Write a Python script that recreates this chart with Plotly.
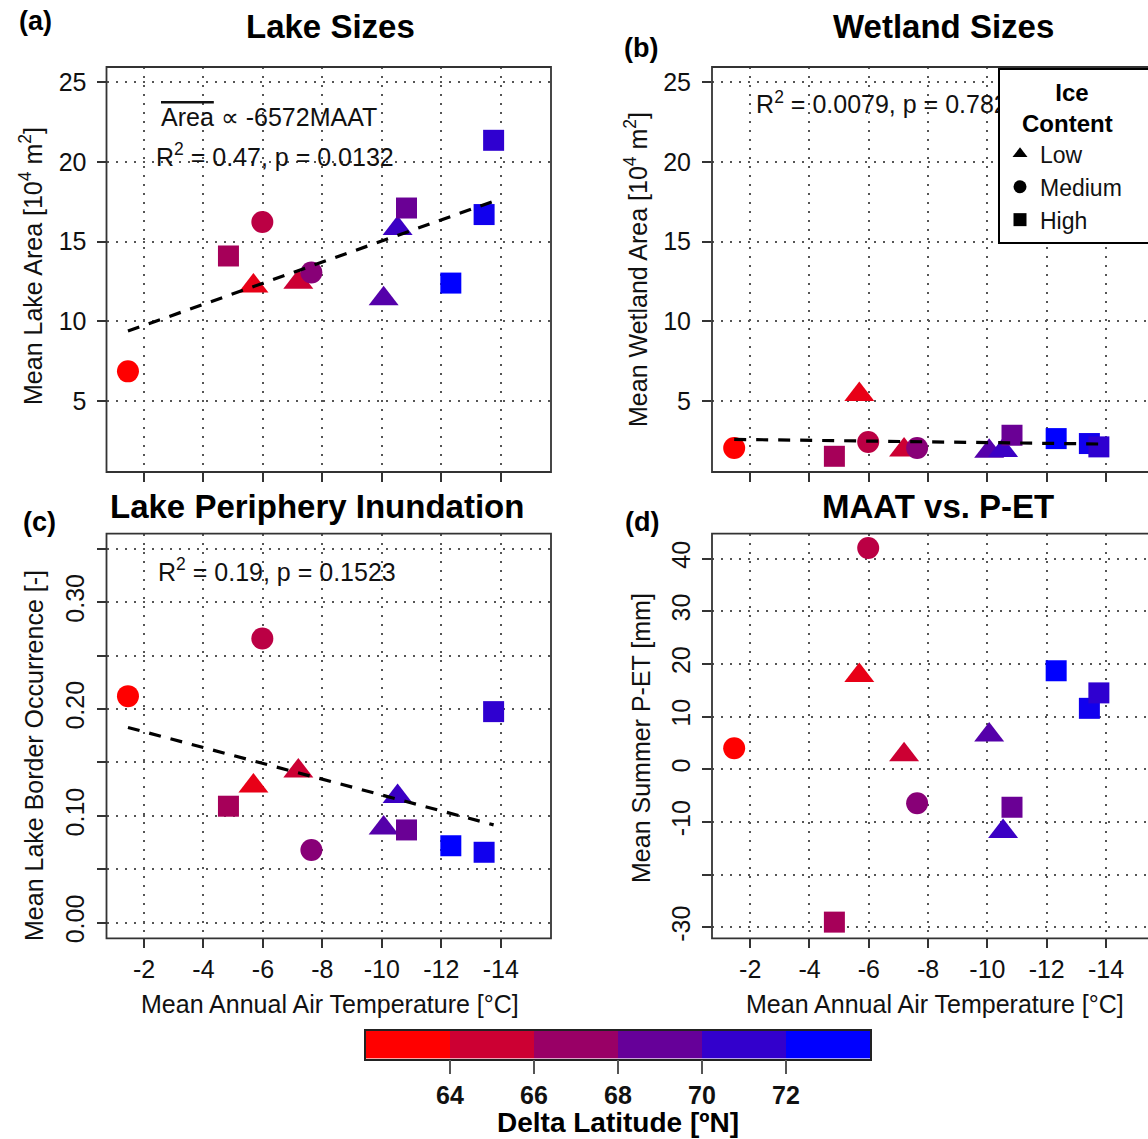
import numpy as np
import plotly.graph_objects as go

# ---------------- data ----------------
maat = [-1.46, -4.84, -5.98, -5.68, -7.19, -7.63, -10.06, -10.53, -10.83, -12.32, -13.44, -13.76]
ice_content = ["Medium", "High", "Medium", "Low", "Low", "Medium", "Low", "Low", "High", "High", "High", "High"]
delta_lat = [62.0, 66.2, 65.2, 63.1, 64.4, 67.6, 70.0, 71.2, 69.0, 74.0, 73.2, 71.8]
lake_area = [6.86, 14.10, 16.23, 12.22, 12.45, 13.06, 11.42, 15.82, 17.11, 12.40, 16.70, 21.36]
wetland_area = [2.05, 1.53, 2.43, 5.40, 1.92, 2.05, 1.84, 1.90, 2.85, 2.64, 2.33, 2.12]
border_occ = [0.212, 0.109, 0.266, 0.128, 0.142, 0.068, 0.0885, 0.118, 0.0868, 0.072, 0.0659, 0.1975]
p_minus_et = [3.98, -29.0, 42.0, 17.8, 2.76, -6.45, 6.53, -11.8, -7.2, 18.7, 11.57, 14.5]

maat_ticks = [-2, -4, -6, -8, -10, -12, -14]
area_ticks = [5, 10, 15, 20, 25]
occ_ticks = [0.0, 0.05, 0.10, 0.15, 0.20, 0.25, 0.30, 0.35]
occ_ticktext = ["0.00", "", "0.10", "", "0.20", "", "0.30", ""]
pet_ticks = [-30, -20, -10, 0, 10, 20, 30, 40]
pet_ticktext = ["-30", "", "-10", "0", "10", "20", "30", "40"]

lat_bin_centers = [63, 65, 67, 69, 71, 73]
lat_ticks = [64, 66, 68, 70, 72]

ice_levels = ["Low", "Medium", "High"]
ice_symbols = {"Low": "triangle-up", "Medium": "circle", "High": "square"}
ice_sizes = {"Low": 26, "Medium": 22, "High": 21}

W, H = 1148, 1139
FONT = "Liberation Sans, Arial, sans-serif"
TXT = "#111111"
RB = [[0, "#FF0000"], [1, "#0000FF"]]
NB = "\u00a0"


def px(x):
    return x / W


def py(y):
    return 1 - y / H


fig = go.Figure()

panels = [
    ("x", "y", lake_area, True),
    ("x2", "y2", wetland_area, True),
    ("x3", "y3", border_occ, True),
    ("x4", "y4", p_minus_et, False),
]

syms = [ice_symbols[c] for c in ice_content]
sizes = [ice_sizes[c] for c in ice_content]

for xa, ya, yvals, trend in panels:
    fig.add_trace(go.Scatter(
        x=maat, y=yvals, mode="markers", xaxis=xa, yaxis=ya, showlegend=False,
        marker=dict(symbol=syms, size=sizes, color=delta_lat, colorscale=RB,
                    cmin=62, cmax=74, opacity=1, line=dict(width=0)),
        cliponaxis=False,
    ))
    if trend:
        k, b = np.polyfit(maat, yvals, 1)
        xs = np.array([max(maat), min(maat)])
        fig.add_trace(go.Scatter(
            x=xs, y=k * xs + b, mode="lines", xaxis=xa, yaxis=ya, showlegend=False,
            line=dict(color="black", width=3.2, dash="12px,10px"),
        ))

# panel (b) statistics as a text trace so that the legend box covers its end
fig.add_trace(go.Scatter(
    x=[-2.2], y=[23.45], mode="text", xaxis="x2", yaxis="y2", showlegend=False,
    text=["R<sup>2</sup> = 0.0079, p = 0.782"], textposition="middle right",
    textfont=dict(size=25, family=FONT, color=TXT), hoverinfo="skip",
))

# legend entries
for lvl in ice_levels:
    label = lvl + (NB * 7 if lvl == "Medium" else "")
    fig.add_trace(go.Scatter(
        x=[None], y=[None], mode="markers", name=label, xaxis="x2", yaxis="y2",
        marker=dict(symbol=ice_symbols[lvl], size=13, color="black"),
    ))

# colorbar as heatmap
fig.add_trace(go.Heatmap(
    z=[lat_bin_centers], x=lat_bin_centers, y=[0], xaxis="x5", yaxis="y5",
    colorscale=RB, zmin=63, zmax=73, showscale=False, hoverinfo="skip",
))

left_dom = [px(106.5), px(551)]
right_dom = [px(712), 1.0]
top_dom = [py(472), py(67)]
bot_dom = [py(938.3), py(533.7)]

grid = dict(showgrid=True, gridcolor="#555555", gridwidth=1.8, griddash="2px,7px",
            zeroline=False, ticks="outside", ticklen=9, tickwidth=1.5, tickcolor="#333333",
            tickfont=dict(size=25, color=TXT, family=FONT), showline=False)

xa_common = dict(tickvals=maat_ticks, **grid)
fig.update_layout(
    xaxis=dict(domain=left_dom, range=[-0.738, -15.69], anchor="y", showticklabels=False, **xa_common),
    yaxis=dict(domain=top_dom, range=[0.544, 25.96], anchor="x", tickvals=area_ticks,
               ticklabelstandoff=5, **grid),
    xaxis2=dict(domain=right_dom, range=[-0.712, -15.417], anchor="y2", showticklabels=False, **xa_common),
    yaxis2=dict(domain=top_dom, range=[0.544, 25.96], anchor="x2", tickvals=area_ticks,
                ticklabelstandoff=6, **grid),
    xaxis3=dict(domain=left_dom, range=[-0.738, -15.69], anchor="y3", ticktext=[str(t) for t in maat_ticks], **xa_common),
    yaxis3=dict(domain=bot_dom, range=[-0.0146, 0.364], anchor="x3", tickvals=occ_ticks,
                ticktext=occ_ticktext, tickangle=-90, ticklabelstandoff=3, **grid),
    xaxis4=dict(domain=right_dom, range=[-0.712, -15.417], anchor="y4", ticktext=[str(t) for t in maat_ticks], **xa_common),
    yaxis4=dict(domain=bot_dom, range=[-32.07, 44.71], anchor="x4", tickvals=pet_ticks,
                ticktext=pet_ticktext, tickangle=-90, ticklabelstandoff=2, **grid),
    xaxis5=dict(domain=[px(366), px(870)], range=[62, 74], anchor="y5", tickvals=lat_ticks,
                ticks="outside", ticklen=14, tickwidth=1.5, tickcolor="#555555",
                tickfont=dict(size=25, color=TXT, family=FONT, weight="bold"),
                showline=True, mirror=True, linecolor="#222222", linewidth=1.5,
                showgrid=False, zeroline=False),
    yaxis5=dict(domain=[py(1058.6), py(1030.7)], range=[-0.5, 0.5], anchor="x5",
                showticklabels=False, ticks="", showgrid=False, zeroline=False,
                showline=True, mirror=True, linecolor="#222222", linewidth=1.5),
)

# frames
shapes = []
for xr, yr, x1 in [("x", "y", 1), ("x2", "y2", (1157 - 712) / (1148 - 712)),
                   ("x3", "y3", 1), ("x4", "y4", (1157 - 712) / (1148 - 712))]:
    shapes.append(dict(type="rect", xref=xr + " domain", yref=yr + " domain", x0=0, x1=x1, y0=0, y1=1,
                       line=dict(color="#333333", width=1.8), fillcolor="rgba(0,0,0,0)", layer="above"))
fig.update_layout(shapes=shapes)

ann = []


def text(x, y, s, size=25, bold=False, angle=0, xanchor="center"):
    ann.append(dict(x=px(x), y=py(y), xref="paper", yref="paper", text=s, showarrow=False,
                    textangle=angle, xanchor=xanchor, yanchor="middle",
                    font=dict(size=size, family=FONT, color="black" if bold else TXT,
                              weight="bold" if bold else "normal")))


# titles
text(330, 27, "Lake Sizes", 33, True)
text(943, 27, "Wetland Sizes", 33, True)
text(317, 507, "Lake Periphery Inundation", 33, True)
text(938, 506, "MAAT vs. P-ET", 33, True)
# panel labels
text(35, 21, "(a)", 27, True)
text(641, 48, "(b)", 27, True)
text(39, 522, "(c)", 27, True)
text(642, 522, "(d)", 27, True)
# axis titles
text(31, 266, "Mean Lake Area [10<sup>4</sup> m<sup>2</sup>]", 25, angle=-90)
text(636, 270, "Mean Wetland Area [10<sup>4</sup> m<sup>2</sup>]", 25, angle=-90)
text(34, 756, "Mean Lake Border Occurrence [-]", 25, angle=-90)
text(641, 738, "Mean Summer P-ET [mm]", 25, angle=-90)
text(330, 1004, "Mean Annual Air Temperature [°C]", 25)
text(935, 1004, "Mean Annual Air Temperature [°C]", 25)
# stats
text(159, 117, '<span style="text-decoration:overline">Area</span> ∝ -6572MAAT', 25, xanchor="left")
text(154, 155, "R<sup>2</sup> = 0.47, p = 0.0132", 25, xanchor="left")
text(156, 570, "R<sup>2</sup> = 0.19, p = 0.1523", 25, xanchor="left")
# colorbar title
text(618, 1122, "Delta Latitude [ºN]", 28, True)

fig.update_layout(
    annotations=ann,
    width=W, height=H,
    margin=dict(l=0, r=0, t=0, b=0, autoexpand=False),
    plot_bgcolor="white", paper_bgcolor="white",
    font=dict(family=FONT, size=25, color=TXT),
    showlegend=True,
    legend=dict(x=px(998), y=py(68), xanchor="left", yanchor="top",
                bgcolor="white", bordercolor="black", borderwidth=2,
                font=dict(size=23, family=FONT, color=TXT),
                title=dict(text="<b>" + NB * 8 + "Ice<br>" + NB * 3 + "Content</b>", side="top",
                           font=dict(size=24, family=FONT, color="black")),
                itemsizing="trace", tracegroupgap=0),
)

fig.write_html("out.html")
